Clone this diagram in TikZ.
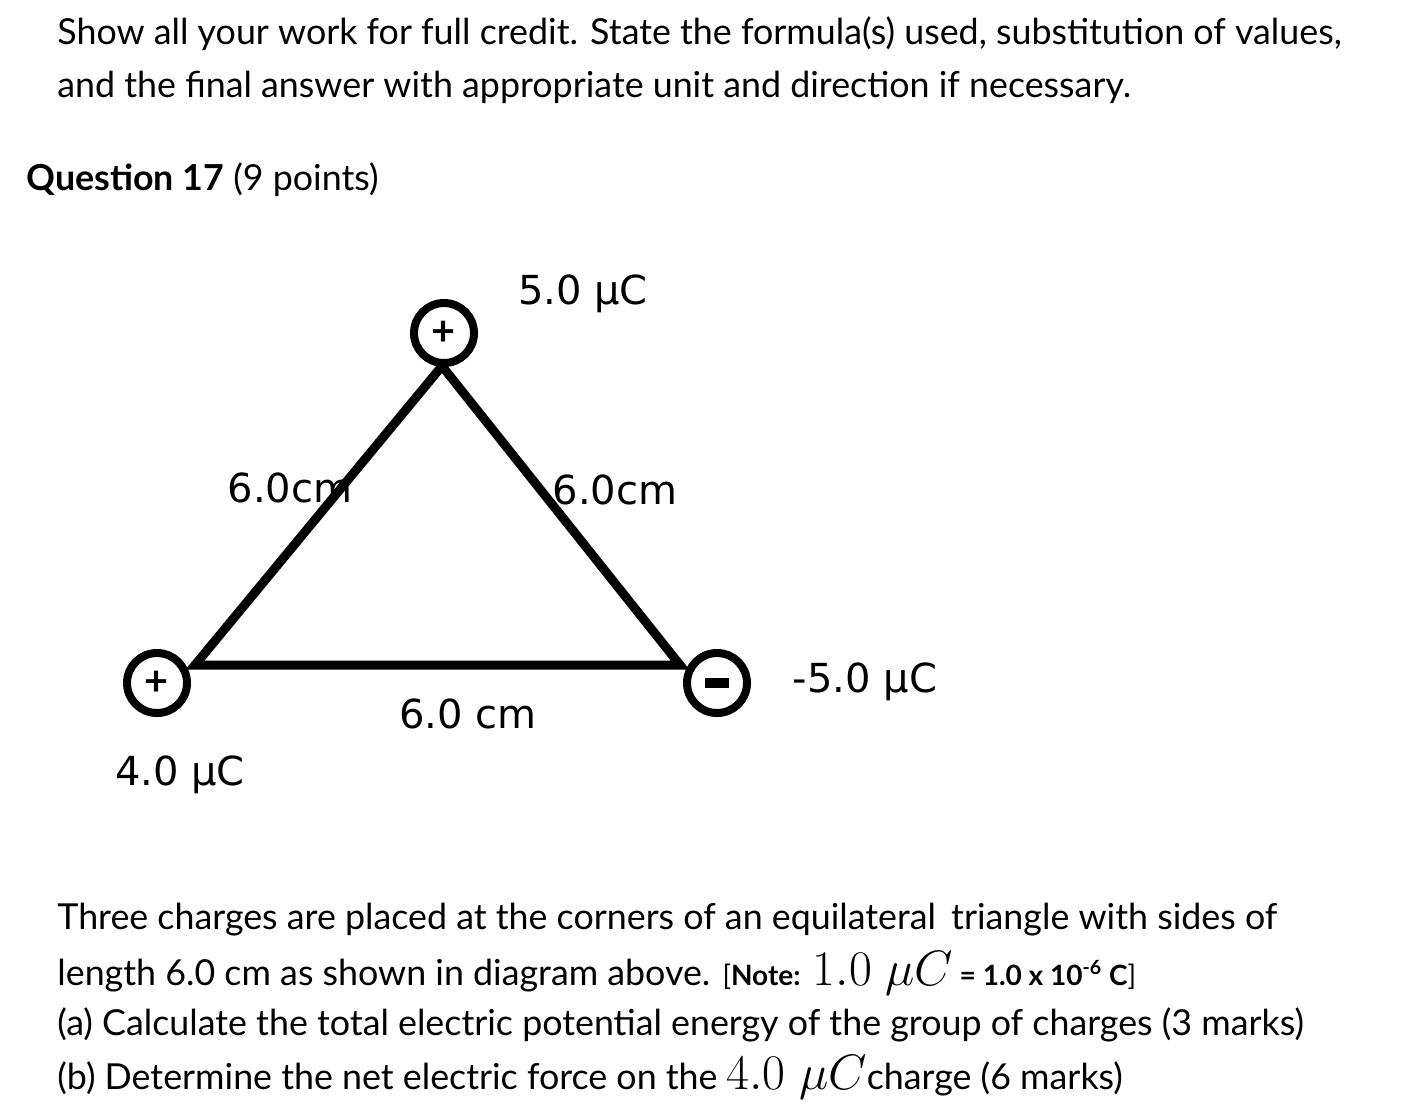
\documentclass[tikz,border=0pt]{standalone}
\usepackage{fontspec}
\setmainfont{Lato}
\newfontfamily\hand{DejaVu Sans}
\begin{document}
\begin{tikzpicture}[x=0.5pt,y=-0.5pt,
  txt/.style={anchor=west,inner sep=0pt,font=\fontsize{17.9pt}{21pt}\selectfont},
  chg/.style={circle,draw,line width=4pt,minimum size=30pt,inner sep=0pt,font=\bfseries\huge},
  lbl/.style={inner sep=0pt,font=\hand\fontsize{20pt}{22pt}\selectfont},
  side/.style={line width=4.5pt}]
\useasboundingbox (0,0) rectangle (1406,1118);
\node[txt] (t1) at (57,34) {Show all your work for full credit. State the formula(s) used, substitution of values,};
\node[txt] (t2) at (57,87) {and the final answer with appropriate unit and direction if necessary.};
\node[txt] (q) at (26,180) {\textbf{Question 17} (9 points)};
\node[chg] (A) at (444,333) {+};
\node[chg] (B) at (157,683) {+};
\node[chg] (C) at (717,683) {};
\draw[line width=5pt] ([xshift=-6pt]C.center) -- ([xshift=6pt]C.center);
\coordinate (a) at (442,366);
\coordinate (b) at (195,665);
\coordinate (c) at (680,665);
\draw[side,line join=miter] (a) -- (b) -- (c) -- cycle;
\node[lbl] (lA) at (583,294) {5.0 μC};
\node[lbl] (lB) at (180,775) {4.0 μC};
\node[lbl] (lC) at (865,682) {-5.0 μC};
\node[lbl] (s1) at (290,488) {6.0cm};
\node[lbl] (s2) at (615,490) {6.0cm};
\node[lbl] (s3) at (468,714) {6.0 cm};
\node[txt] (p1) at (57,920) {Three charges are placed at the corners of an equilateral\, triangle with sides of};
\node[txt] (p2) at (57,973) {length 6.0 cm as shown in diagram above. {\fontsize{14pt}{16pt}\selectfont[\textbf{Note:}} {\fontsize{26pt}{28pt}\selectfont$1.0\ \mu C$}{\fontsize{14pt}{16pt}\selectfont\textbf{ = 1.0 x 10\textsuperscript{-6} C}]}};
\node[txt] (p3) at (57,1025) {(a) Calculate the total electric potential energy of the group of charges (3 marks)};
\node[txt] (p4) at (57,1077) {(b) Determine the net electric force on the {\fontsize{26pt}{28pt}\selectfont$4.0\ \mu C$}charge (6 marks)};
\end{tikzpicture}
\end{document}
